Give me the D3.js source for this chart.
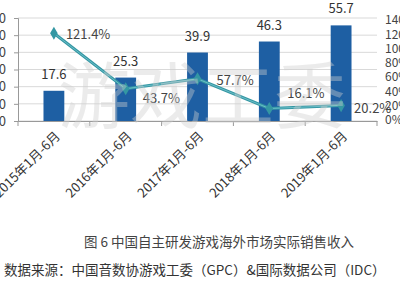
<!DOCTYPE html>
<html><head><meta charset="utf-8">
<script src="https://cdn.jsdelivr.net/npm/d3@7"></script>
<style>body{margin:0;background:#fff}svg{display:block}text{font-family:"Noto Sans CJK SC","Noto Sans",sans-serif}</style>
</head><body><svg id="c" width="400" height="300"></svg>
<script>
const categories = ["2015年1月-6月","2016年1月-6月","2017年1月-6月","2018年1月-6月","2019年1月-6月"];
const revenue = [17.6, 25.3, 39.9, 46.3, 55.7];
const growth = [121.4, 43.7, 57.7, 16.1, 20.2];
const leftTicks = [0,10,20,30,40,50,60];
const rightTicks = [0,20,40,60,80,100,120,140];
const title = "图 6  中国自主研发游戏海外市场实际销售收入";
const source = "数据来源：中国音数协游戏工委（GPC）&国际数据公司（IDC）";
const watermark = "游戏工委";

const svg = d3.select("#c");
const L = 18, R = 377, T = 18, B = 121;
const x = d3.scaleBand().domain(categories).range([L, R]).paddingInner(0.71).paddingOuter(0.355);
const yL = d3.scaleLinear().domain([0, 60]).range([B, T]);
const yR = d3.scaleLinear().domain([0, 140]).range([B - 1, 20]);

// gridlines
svg.append("g").selectAll("line").data(leftTicks).join("line")
  .attr("x1", L).attr("x2", R).attr("y1", d => yL(d)).attr("y2", d => yL(d))
  .attr("stroke", "#d9d9d9").attr("stroke-width", 1);

// left axis
const gl = svg.append("g").attr("transform", `translate(${L},0)`)
  .call(d3.axisLeft(yL).tickValues(leftTicks).tickSize(4).tickPadding(8));
gl.select(".domain").attr("stroke", "#999");
gl.selectAll(".tick line").attr("stroke", "#999");
gl.selectAll("text").attr("font-size", 13).attr("fill", "#444");

// right axis labels
const gr = svg.append("g").attr("transform", `translate(${R},0)`)
  .call(d3.axisRight(yR).tickValues(rightTicks).tickFormat(d => d + "%").tickSize(0).tickPadding(8));
gr.select(".domain").remove();
gr.selectAll("text").attr("font-size", 12).attr("fill", "#444");

// bottom axis
const gb = svg.append("g").attr("transform", `translate(0,${B})`)
  .call(d3.axisBottom(x).tickSize(0).tickFormat(""));
gb.select(".domain").attr("stroke", "#999");
const step = x.step();
svg.append("g").selectAll("line").data(d3.range(categories.length + 1)).join("line")
  .attr("x1", i => L + i * step).attr("x2", i => L + i * step)
  .attr("y1", B).attr("y2", B + 5).attr("stroke", "#999");
svg.append("g").selectAll("text").data(categories).join("text")
  .attr("transform", d => `translate(${x(d) + x.bandwidth() / 2 + 7},${B + 16}) rotate(-45)`)
  .attr("text-anchor", "end").attr("font-size", 13).attr("fill", "#333").text(d => d);

// bars
svg.append("g").selectAll("rect").data(revenue).join("rect")
  .attr("x", (d, i) => x(categories[i])).attr("width", x.bandwidth())
  .attr("y", d => yL(d)).attr("height", d => B - yL(d)).attr("fill", "#1e5fa3");
svg.append("g").selectAll("text").data(revenue).join("text")
  .attr("x", (d, i) => x(categories[i]) + x.bandwidth() / 2).attr("y", d => yL(d) - 12)
  .attr("text-anchor", "middle").attr("font-size", 13).attr("fill", "#333").text(d => d.toFixed(1));

// line
const cx = i => x(categories[i]) + x.bandwidth() / 2;
const line = d3.line().x((d, i) => cx(i)).y(d => yR(d));
svg.append("path").datum(growth).attr("d", line).attr("fill", "none")
  .attr("stroke", "#3497a3").attr("stroke-width", 3);
svg.append("path").datum(growth).attr("d", line).attr("fill", "none")
  .attr("stroke", "#8fd6e0").attr("stroke-width", 1).attr("opacity", 0.6);
svg.append("g").selectAll("path").data(growth).join("path")
  .attr("d", d3.symbol().type(d3.symbolDiamond).size(50))
  .attr("transform", (d, i) => `translate(${cx(i)},${yR(d)})`).attr("fill", "#3497a3");

const gOff = [[12, 6], [17, 14], [19, 6], [18, -11], [13, 7]];
svg.append("g").selectAll("text").data(growth).join("text")
  .attr("x", (d, i) => cx(i) + gOff[i][0]).attr("y", (d, i) => yR(d) + gOff[i][1])
  .attr("font-size", 13).attr("fill", "#444").text(d => d.toFixed(1) + "%");

// watermark
svg.append("text").attr("x", 202).attr("y", 122).attr("text-anchor", "middle")
  .attr("font-size", 72).attr("fill", "#cfcfcf").attr("opacity", 0.4).text(watermark);

// title and source
svg.append("text").attr("x", 219).attr("y", 247).attr("text-anchor", "middle")
  .attr("font-size", 13.5).attr("fill", "#444").text(title);
svg.append("text").attr("x", 4).attr("y", 275)
  .attr("font-size", 13.5).attr("fill", "#333").text(source);
</script></body></html>
